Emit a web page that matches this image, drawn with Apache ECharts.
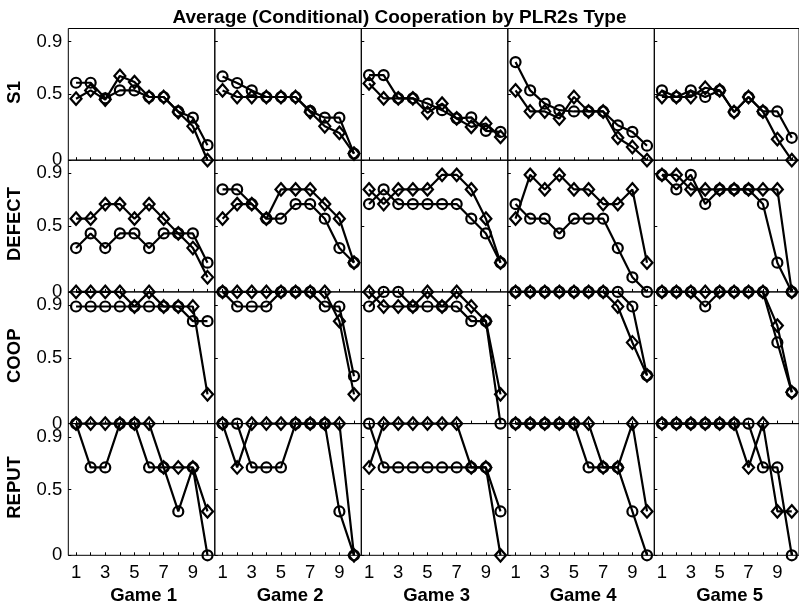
<!DOCTYPE html>
<html>
<head>
<meta charset="utf-8">
<title>Average (Conditional) Cooperation by PLR2s Type</title>
<script src="https://cdn.jsdelivr.net/npm/echarts@6/dist/echarts.min.js"></script>
<style>
  html, body { margin: 0; padding: 0; background: #fff; }
  #chart { width: 799px; height: 604px; }
</style>
</head>
<body>
<div id="chart"></div>
<script>
// Labels and tick values
const games = ['Game 1', 'Game 2', 'Game 3', 'Game 4', 'Game 5'];
const rowNames = ['S1', 'DEFECT', 'COOP', 'REPUT'];
const rounds = [1, 2, 3, 4, 5, 6, 7, 8, 9, 10];
const xTickLabels = [1, 3, 5, 7, 9];
const yTickLabels = [0, 0.5, 0.9];

// S1 — one list of ten rounds per game
const s1Circle = [
  [0.588, 0.588, 0.47, 0.53, 0.53, 0.48, 0.48, 0.37, 0.323, 0.114],
  [0.636, 0.586, 0.53, 0.48, 0.48, 0.48, 0.374, 0.323, 0.323, 0.05],
  [0.646, 0.646, 0.47, 0.47, 0.43, 0.38, 0.317, 0.325, 0.223, 0.215],
  [0.745, 0.53, 0.43, 0.38, 0.37, 0.37, 0.37, 0.265, 0.215, 0.11],
  [0.53, 0.48, 0.53, 0.48, 0.53, 0.366, 0.48, 0.37, 0.37, 0.17]
];
const s1Diamond = [
  [0.467, 0.53, 0.46, 0.64, 0.593, 0.48, 0.48, 0.366, 0.258, 0.0],
  [0.53, 0.48, 0.48, 0.48, 0.48, 0.48, 0.366, 0.258, 0.207, 0.05],
  [0.583, 0.469, 0.47, 0.47, 0.36, 0.43, 0.317, 0.253, 0.279, 0.177],
  [0.53, 0.37, 0.37, 0.316, 0.48, 0.37, 0.37, 0.17, 0.10, 0.0],
  [0.48, 0.48, 0.48, 0.55, 0.53, 0.366, 0.48, 0.37, 0.16, 0.0]
];

// DEFECT
const defectCircle = [
  [0.333, 0.444, 0.333, 0.444, 0.444, 0.333, 0.444, 0.444, 0.444, 0.222],
  [0.778, 0.778, 0.667, 0.556, 0.556, 0.667, 0.667, 0.556, 0.333, 0.222],
  [0.667, 0.778, 0.667, 0.667, 0.667, 0.667, 0.667, 0.556, 0.444, 0.222],
  [0.667, 0.556, 0.556, 0.444, 0.556, 0.556, 0.556, 0.333, 0.111, 0.0],
  [0.889, 0.778, 0.889, 0.667, 0.778, 0.778, 0.778, 0.667, 0.222, 0.0]
];
const defectDiamond = [
  [0.556, 0.556, 0.667, 0.667, 0.556, 0.667, 0.556, 0.444, 0.333, 0.111],
  [0.556, 0.667, 0.667, 0.556, 0.778, 0.778, 0.778, 0.667, 0.556, 0.222],
  [0.778, 0.667, 0.778, 0.778, 0.778, 0.889, 0.889, 0.778, 0.556, 0.222],
  [0.556, 0.889, 0.778, 0.889, 0.778, 0.778, 0.667, 0.667, 0.778, 0.222],
  [0.889, 0.889, 0.778, 0.778, 0.778, 0.778, 0.778, 0.778, 0.778, 0.0]
];

// COOP
const coopCircle = [
  [0.889, 0.889, 0.889, 0.889, 0.889, 0.889, 0.889, 0.889, 0.778, 0.778],
  [1, 0.889, 0.889, 0.889, 1, 1, 1, 0.889, 0.889, 0.36],
  [0.889, 1, 1, 0.889, 0.889, 0.889, 0.889, 0.778, 0.778, 0],
  [1, 1, 1, 1, 1, 1, 1, 1, 0.889, 0.366],
  [1, 1, 1, 0.889, 1, 1, 1, 1, 0.616, 0.238]
];
const coopDiamond = [
  [1, 1, 1, 1, 0.889, 1, 0.889, 0.889, 0.889, 0.222],
  [1, 1, 1, 1, 1, 1, 1, 1, 0.778, 0.222],
  [1, 0.889, 0.889, 0.889, 1, 0.889, 1, 0.889, 0.778, 0.222],
  [1, 1, 1, 1, 1, 1, 1, 0.889, 0.616, 0.366],
  [1, 1, 1, 1, 1, 1, 1, 1, 0.744, 0.238]
];

// REPUT
const reputCircle = [
  [1, 0.667, 0.667, 1, 1, 0.667, 0.667, 0.333, 0.667, 0],
  [1, 1, 0.667, 0.667, 0.667, 1, 1, 1, 0.333, 0],
  [1, 0.667, 0.667, 0.667, 0.667, 0.667, 0.667, 0.667, 0.667, 0.333],
  [1, 1, 1, 1, 1, 0.667, 0.667, 0.667, 0.333, 0],
  [1, 1, 1, 1, 1, 1, 1, 0.667, 0.667, 0]
];
const reputDiamond = [
  [1, 1, 1, 1, 1, 1, 0.667, 0.667, 0.667, 0.333],
  [1, 0.667, 1, 1, 1, 1, 1, 1, 1, 0],
  [0.667, 1, 1, 1, 1, 1, 1, 0.667, 0.667, 0],
  [1, 1, 1, 1, 1, 1, 0.667, 0.667, 1, 0.333],
  [1, 1, 1, 1, 1, 1, 0.667, 1, 0.333, 0.333]
];

const circleRows = [s1Circle, defectCircle, coopCircle, reputCircle];
const diamondRows = [s1Diamond, defectDiamond, coopDiamond, reputDiamond];

// Panel layout
const FONT = '"Liberation Sans", Arial, Helvetica, sans-serif';
const LEFT = 68.3, TOP = 28.5, CELL_W = 146.5, CELL_H = 131.7;

const grids = [], xAxes = [], yAxes = [], series = [], graphics = [];

rowNames.forEach((rowName, r) => {
  games.forEach((game, c) => {
    const idx = grids.length;
    grids.push({
      left: LEFT + c * CELL_W,
      top: TOP + r * CELL_H,
      width: CELL_W,
      height: CELL_H,
      show: true,
      borderColor: '#000',
      borderWidth: 1,
      backgroundColor: 'transparent',
      containLabel: false
    });
    xAxes.push({
      gridIndex: idx,
      type: 'value',
      min: 0.47,
      max: 10.5,
      axisLine: { show: false },
      splitLine: { show: false },
      axisTick: {
        show: true, inside: true, length: 3,
        customValues: rounds,
        lineStyle: { color: '#000', width: 1 }
      },
      axisLabel: {
        show: r === rowNames.length - 1,
        customValues: xTickLabels,
        margin: 8,
        color: '#000',
        fontSize: 18.5,
        fontFamily: FONT
      }
    });
    yAxes.push({
      gridIndex: idx,
      type: 'value',
      min: 0,
      max: 1,
      axisLine: { show: false },
      splitLine: { show: false },
      axisTick: {
        show: true, inside: true, length: 3,
        customValues: yTickLabels,
        lineStyle: { color: '#000', width: 1 }
      },
      axisLabel: {
        show: c === 0,
        customValues: yTickLabels,
        margin: 6,
        color: '#000',
        fontSize: 18.5,
        fontFamily: FONT
      }
    });

    const common = {
      type: 'line',
      xAxisIndex: idx,
      yAxisIndex: idx,
      clip: false,
      animation: false,
      silent: true,
      lineStyle: { color: '#000', width: 2.2 },
      emphasis: { disabled: true }
    };
    series.push(Object.assign({}, common, {
      name: rowName + ' ' + game + ' circle',
      symbol: 'circle',
      symbolSize: 10,
      itemStyle: { color: 'rgba(0,0,0,0)', borderColor: '#000', borderWidth: 2.2 },
      data: rounds.map((x, i) => [x, circleRows[r][c][i]])
    }));
    series.push(Object.assign({}, common, {
      name: rowName + ' ' + game + ' diamond',
      symbol: 'diamond',
      symbolSize: [11, 12.5],
      itemStyle: { color: 'rgba(0,0,0,0)', borderColor: '#000', borderWidth: 2.2 },
      data: rounds.map((x, i) => [x, diamondRows[r][c][i]])
    }));
  });

  // Row label, rotated along the left side
  graphics.push({
    type: 'text',
    x: 15,
    y: TOP + (r + 0.5) * CELL_H - 2,
    rotation: Math.PI / 2,
    style: {
      text: rowName,
      fill: '#000',
      font: 'bold 18.5px ' + FONT,
      align: 'center',
      verticalAlign: 'middle'
    }
  });
});

// Game labels under each column
games.forEach((game, c) => {
  graphics.push({
    type: 'text',
    x: LEFT + (c + 0.5) * CELL_W + 2,
    y: 596,
    style: {
      text: game,
      fill: '#000',
      font: 'bold 18.5px ' + FONT,
      align: 'center',
      verticalAlign: 'middle'
    }
  });
});

const chart = echarts.init(document.getElementById('chart'), null, { renderer: 'canvas' });
chart.setOption({
  backgroundColor: '#fff',
  animation: false,
  title: {
    text: 'Average (Conditional) Cooperation by PLR2s Type',
    left: 'center',
    top: 3,
    textStyle: { color: '#000', fontSize: 19, fontWeight: 'bold', fontFamily: FONT }
  },
  grid: grids,
  xAxis: xAxes,
  yAxis: yAxes,
  series: series,
  graphic: graphics
});
</script>
</body>
</html>
